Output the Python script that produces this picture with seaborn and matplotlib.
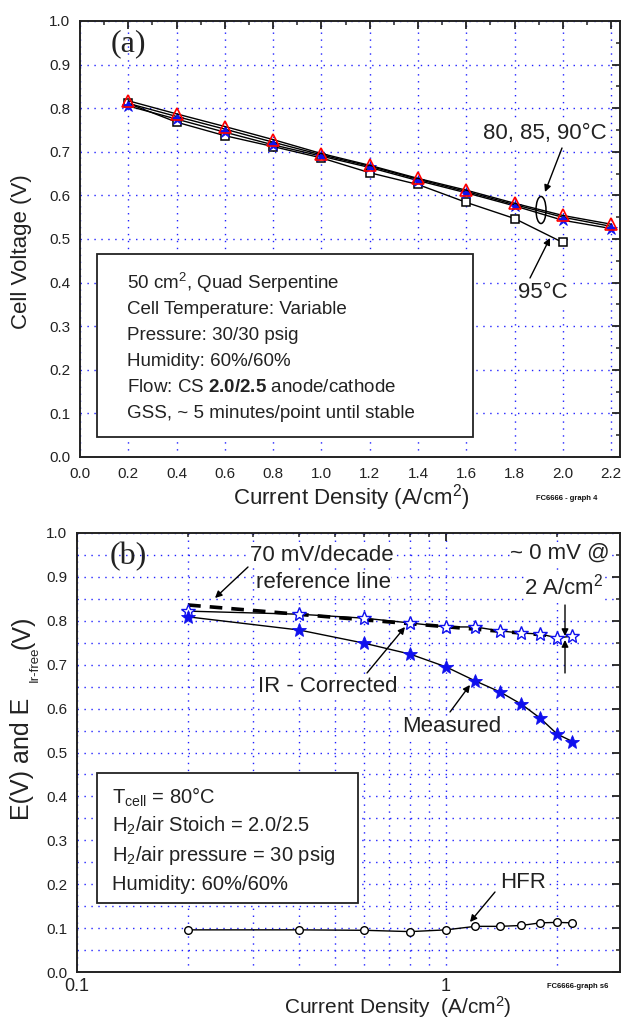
import matplotlib
matplotlib.use("Agg")
import matplotlib.pyplot as plt
import seaborn as sns
import numpy as np
import pandas as pd
from matplotlib.patches import Rectangle, Ellipse
from matplotlib.ticker import MultipleLocator, LogLocator, NullFormatter, FixedLocator

# ---------------- data ----------------
# Panel (a): polarization curves vs temperature
current_a = [0.2, 0.4, 0.6, 0.8, 1.0, 1.2, 1.4, 1.6, 1.8, 2.0, 2.2]
v_80C = [0.805, 0.775, 0.745, 0.716, 0.690, 0.664, 0.634, 0.606, 0.576, 0.543, 0.524]
v_85C = [0.811, 0.781, 0.752, 0.722, 0.693, 0.667, 0.637, 0.609, 0.579, 0.550, 0.529]
v_90C = [0.817, 0.787, 0.758, 0.728, 0.696, 0.669, 0.639, 0.612, 0.582, 0.554, 0.534]
current_95 = [0.2, 0.4, 0.6, 0.8, 1.0, 1.2, 1.4, 1.6, 1.8, 2.0]
v_95C = [0.811, 0.768, 0.737, 0.712, 0.686, 0.652, 0.625, 0.584, 0.547, 0.492]

# Panel (b): measured, IR-corrected, HFR (log x)
current_b = [0.2, 0.4, 0.6, 0.8, 1.0, 1.2, 1.4, 1.6, 1.8, 2.0, 2.2]
e_measured = [0.809, 0.779, 0.749, 0.724, 0.695, 0.663, 0.638, 0.610, 0.578, 0.542, 0.525]
e_ir_free = [0.822, 0.815, 0.806, 0.795, 0.786, 0.786, 0.777, 0.772, 0.770, 0.761, 0.765]
hfr = [0.096, 0.096, 0.095, 0.092, 0.096, 0.104, 0.104, 0.106, 0.112, 0.113, 0.112]
ref_x = [0.2, 1.95]
ref_y = [0.836, 0.766]

xticks_a = [0.0, 0.2, 0.4, 0.6, 0.8, 1.0, 1.2, 1.4, 1.6, 1.8, 2.0, 2.2]
xticklabels_a = ["0.0", "0.2", "0.4", "0.6", "0.8", "1.0", "1.2", "1.4", "1.6", "1.8", "2.0", "2.2"]
yticks = [0.0, 0.1, 0.2, 0.3, 0.4, 0.5, 0.6, 0.7, 0.8, 0.9, 1.0]
yticklabels = ["0.0", "0.1", "0.2", "0.3", "0.4", "0.5", "0.6", "0.7", "0.8", "0.9", "1.0"]
xticks_b = [0.1, 1.0]
xticklabels_b = ["0.1", "1"]

box_a_lines = [r"50 cm$^\mathregular{2}$, Quad Serpentine",
               "Cell Temperature: Variable",
               "Pressure: 30/30 psig",
               "Humidity: 60%/60%",
               r"Flow: CS $\mathbf{2.0/2.5}$ anode/cathode",
               "GSS, ~ 5 minutes/point until stable"]
box_b_lines = [r"T$_\mathregular{cell}$ = 80°C",
               r"H$_\mathregular{2}$/air Stoich = 2.0/2.5",
               r"H$_\mathregular{2}$/air pressure = 30 psig",
               "Humidity: 60%/60%"]

# ---------------- style ----------------
sns.set_theme(style="white")
plt.rcParams['font.family'] = ['Liberation Sans', 'DejaVu Sans']
plt.rcParams['mathtext.fontset'] = 'custom'
plt.rcParams['mathtext.rm'] = 'Liberation Sans'
plt.rcParams['mathtext.it'] = 'Liberation Sans:italic'
plt.rcParams['mathtext.bf'] = 'Liberation Sans:bold'
plt.rcParams['axes.edgecolor'] = '#222222'
plt.rcParams['axes.linewidth'] = 1.4

W, H = 621, 1021
fig = plt.figure(figsize=(W / 100, H / 100), dpi=100)
fig.patch.set_facecolor('white')


def P(x, y):
    return (x / W, 1 - y / H)


def add_axes_px(l, t, r, b):
    return fig.add_axes([l / W, 1 - b / H, (r - l) / W, (b - t) / H])


ax_a = add_axes_px(80, 21, 620, 457)
ax_b = add_axes_px(77, 533, 620, 972)

grid_kw = dict(color='#2020ff', linestyle=(0, (1, 4)), linewidth=1.0)

for ax in (ax_a, ax_b):
    ax.set_axisbelow(True)
    ax.tick_params(which='both', direction='in', top=True, right=True,
                   colors='#222222', labelcolor='#222222')
    ax.tick_params(which='major', length=6, width=1.3)
    ax.tick_params(which='minor', length=3, width=1.1)
    for s in ax.spines.values():
        s.set_linewidth(1.4)

# ---------------- panel (a) ----------------
line_kw = dict(color='black', lw=1.0)
sns.lineplot(x=current_95, y=v_95C, ax=ax_a, marker='s', markersize=6,
             markerfacecolor='white', markeredgecolor='black', markeredgewidth=1.1,
             zorder=3, **line_kw)
sns.lineplot(x=current_a, y=v_80C, ax=ax_a, marker='*', markersize=9,
             markerfacecolor='#1010ee', markeredgecolor='#1010ee', markeredgewidth=0.6,
             zorder=3, **line_kw)
sns.lineplot(x=current_a, y=v_85C, ax=ax_a, marker='^', markersize=5,
             markerfacecolor='#1010ee', markeredgecolor='#1010ee', markeredgewidth=0.6,
             zorder=4, **line_kw)
sns.lineplot(x=current_a, y=v_90C, ax=ax_a, marker='^', markersize=9,
             markerfacecolor='none', markeredgecolor='red', markeredgewidth=1.2,
             zorder=5, **line_kw)

ax_a.set_xlim(0, 2.237)
ax_a.set_ylim(0, 1.0)
ax_a.set_xticks(xticks_a)
ax_a.set_xticklabels(xticklabels_a, fontsize=11)
ax_a.set_yticks(yticks)
ax_a.set_yticklabels(yticklabels, fontsize=11)
ax_a.xaxis.set_minor_locator(MultipleLocator(0.1))
ax_a.yaxis.set_minor_locator(MultipleLocator(0.05))
ax_a.tick_params(axis='x', which='major', pad=7)
ax_a.tick_params(axis='y', which='major', pad=7)
ax_a.grid(True, which='major', **grid_kw)
ax_a.set_xlabel("")
ax_a.set_ylabel("")

# text box (a)
ax_a.add_patch(Rectangle(P(97, 437), (473 - 97) / W, (437 - 254) / H,
                         transform=fig.transFigure, facecolor='white',
                         edgecolor='#222222', lw=1.3, zorder=2))
for i, s in enumerate(box_a_lines):
    fig.text(*P(127, 283 + i * 26), s, fontsize=13.5, ha='left', va='center',
             color='#222222', zorder=6)

fig.text(*P(128, 44), "(a)", fontsize=23, family='Liberation Serif',
         ha='center', va='center', color='#222222')
fig.text(*P(545, 133), "80, 85, 90°C", fontsize=16, ha='center', va='center',
         color='#222222', bbox=dict(facecolor='white', edgecolor='none', pad=1))
fig.text(*P(543, 293), "95°C", fontsize=16, ha='center', va='center',
         color='#222222', bbox=dict(facecolor='white', edgecolor='none', pad=1))

arrow_kw = dict(arrowstyle='-|>', color='black', lw=1.0, mutation_scale=10,
                shrinkA=0, shrinkB=0)
ax_a.annotate('', xy=P(545, 192), xytext=P(562, 148), xycoords='figure fraction',
              textcoords='figure fraction', arrowprops=arrow_kw, zorder=6)
ax_a.annotate('', xy=P(550, 238), xytext=P(530, 278), xycoords='figure fraction',
              textcoords='figure fraction', arrowprops=arrow_kw, zorder=6)
ax_a.add_patch(Ellipse(P(541, 210), 10 / W, 27 / H, transform=fig.transFigure,
                       fill=False, edgecolor='black', lw=1.1, zorder=6))

fig.text(*P(351, 498), r"Current Density (A/cm$^\mathregular{2}$)", fontsize=16,
         ha='center', va='center', color='#222222')
fig.text(*P(22, 252), "Cell Voltage (V)", fontsize=16, rotation=90,
         ha='center', va='center', color='#222222')
fig.text(*P(567, 498), "FC6666 - graph 4", fontsize=5.5, fontweight='bold',
         ha='center', va='center', color='#111111')

# ---------------- panel (b) ----------------
ax_b.set_xscale('log')
sns.lineplot(x=ref_x, y=ref_y, ax=ax_b, color='black', lw=2.6,
             linestyle=(0, (3.5, 2.5)), zorder=3)
sns.lineplot(x=current_b, y=e_ir_free, ax=ax_b, color='black', lw=1.0,
             marker='*', markersize=10, markerfacecolor='white',
             markeredgecolor='#1010ee', markeredgewidth=1.0, zorder=4)
sns.lineplot(x=current_b, y=e_measured, ax=ax_b, color='black', lw=1.0,
             marker='*', markersize=10, markerfacecolor='#1010ee',
             markeredgecolor='#1010ee', markeredgewidth=0.6, zorder=4)
sns.lineplot(x=current_b, y=hfr, ax=ax_b, color='black', lw=1.0,
             marker='o', markersize=5.5, markerfacecolor='white',
             markeredgecolor='black', markeredgewidth=1.0, zorder=4)

ax_b.set_xlim(0.1, 2.96)
ax_b.set_ylim(0, 1.0)
ax_b.xaxis.set_major_locator(FixedLocator(xticks_b))
ax_b.set_xticklabels(xticklabels_b, fontsize=13)
ax_b.xaxis.set_minor_locator(LogLocator(base=10, subs=np.arange(2, 10)))
ax_b.xaxis.set_minor_formatter(NullFormatter())
ax_b.set_yticks(yticks)
ax_b.set_yticklabels(yticklabels, fontsize=11)
ax_b.yaxis.set_minor_locator(MultipleLocator(0.05))
ax_b.tick_params(axis='x', which='major', pad=4)
ax_b.tick_params(axis='y', which='major', pad=7)
ax_b.grid(True, which='both', **grid_kw)
ax_b.set_xlabel("")
ax_b.set_ylabel("")

ax_b.add_patch(Rectangle(P(97, 903), (358 - 97) / W, (903 - 773) / H,
                         transform=fig.transFigure, facecolor='white',
                         edgecolor='#222222', lw=1.3, zorder=2))
for i, s in enumerate(box_b_lines):
    fig.text(*P(112, 797 + i * 29), s, fontsize=14.5, ha='left', va='center',
             color='#222222', zorder=6)

fig.text(*P(128, 557), "(b)", fontsize=23, family='Liberation Serif',
         ha='center', va='center', color='#222222')

lab_kw = dict(fontsize=16, ha='center', va='center', color='#222222',
              bbox=dict(facecolor='white', edgecolor='none', pad=0.5))
fig.text(*P(322, 555), "70 mV/decade", **lab_kw)
fig.text(*P(323, 582), "reference line", **lab_kw)
fig.text(*P(560, 553), "~ 0 mV @", **lab_kw)
fig.text(*P(564, 587), r"2 A/cm$^\mathregular{2}$", **lab_kw)
fig.text(*P(328, 687), "IR - Corrected", **lab_kw)
fig.text(*P(452, 727), "Measured", **lab_kw)
fig.text(*P(523, 883), "HFR", **lab_kw)

for head, tail in [((215, 598), (248, 567)),
                   ((405, 627), (367, 673)),
                   ((470, 685), (450, 712)),
                   ((470, 922), (495, 892)),
                   ((565, 636), (565, 605)),
                   ((565, 640), (565, 673))]:
    ax_b.annotate('', xy=P(*head), xytext=P(*tail), xycoords='figure fraction',
                  textcoords='figure fraction', arrowprops=arrow_kw, zorder=6)

fig.text(*P(398, 1020), r"Current Density  (A/cm$^\mathregular{2}$)", fontsize=15,
         ha='center', va='bottom', color='#222222')
# y label (b) with subscript
fig.text(*P(22, 820), "E(V) and E", fontsize=18, rotation=90, rotation_mode='anchor',
         ha='left', va='center', color='#222222')
fig.text(*P(35, 664), "Ir-free", fontsize=9.5, rotation=90, rotation_mode='anchor',
         ha='center', va='center', color='#222222')
fig.text(*P(22, 632), "(V)", fontsize=18, rotation=90, rotation_mode='anchor',
         ha='center', va='center', color='#222222')
fig.text(*P(578, 986), "FC6666-graph s6", fontsize=5.5, fontweight='bold',
         ha='center', va='center', color='#111111')

fig.savefig("out.png", dpi=100, facecolor='white')
